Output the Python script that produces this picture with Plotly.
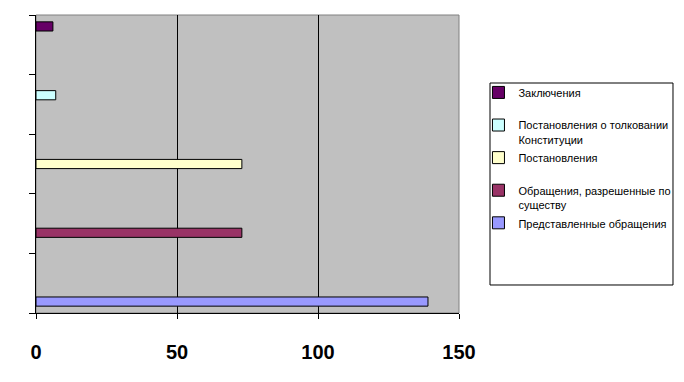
import plotly.graph_objects as go

categories = ["c1", "c2", "c3", "c4", "c5"]
series_names = [
    "Представленные обращения",
    "Обращения, разрешенные по<br>существу",
    "Постановления<br> ",
    "Постановления о толковании<br>Конституции",
    "Заключения<br> ",
]
series_values = [139, 73, 73, 7, 6]
colors = ["#9999FF", "#993366", "#FFFFCC", "#CCFFFF", "#660066"]
tick_vals = [0, 50, 100, 150]

FONT = "Liberation Sans, Arial, sans-serif"

fig = go.Figure()
n = len(series_names)
for i, (name, val, col) in enumerate(zip(series_names, series_values, colors)):
    xs = [None] * len(categories)
    xs[i] = val
    fig.add_trace(go.Bar(
        y=categories, x=xs, name=name, orientation="h",
        legendgroup=f"g{i}", legendrank=n - i,
        marker=dict(color=col, line=dict(color="black", width=1)),
    ))

# page body has an 8px margin: compensate so plot area sits at 36..459 x 15..313
fig.update_layout(
    width=676, height=374,
    margin=dict(l=28, r=225, t=7, b=69, autoexpand=False),
    paper_bgcolor="white", plot_bgcolor="#C0C0C0",
    barmode="group", bargap=0.23, bargroupgap=0,
    font=dict(family=FONT, color="black"),
    showlegend=True,
    legend=dict(
        x=1.046, y=0.786, xanchor="left", yanchor="top",
        traceorder="grouped", valign="top", tracegroupgap=1,
        bgcolor="rgba(0,0,0,0)", borderwidth=0,
        font=dict(size=11, family=FONT),
    ),
    shapes=[
        dict(type="rect", xref="x domain", yref="y domain", x0=0, x1=1, y0=0, y1=1,
             line=dict(color="#808080", width=1), layer="below"),
        dict(type="rect", xref="paper", yref="paper", x0=1.0733, x1=1.5059, y0=0.094, y1=0.7718,
             line=dict(color="black", width=1), fillcolor="white", layer="below"),
    ],
)
fig.update_xaxes(
    range=[0, 150], tickvals=tick_vals, showgrid=True, gridcolor="black", gridwidth=1,
    showline=True, linecolor="black", linewidth=1, ticks="outside", ticklen=5,
    tickcolor="black", zeroline=False, ticklabelstandoff=16,
    tickfont=dict(size=20, family=FONT, weight="bold"),
)
fig.update_yaxes(
    showticklabels=False, showgrid=False, showline=True, linecolor="black", linewidth=1,
    ticks="outside", ticklen=6, tickcolor="black",
    tickmode="array", tickvals=[-0.5, 0.5, 1.5, 2.5, 3.5, 4.5],
    range=[-0.5, 4.5],
)

fig.write_html("out.html")
